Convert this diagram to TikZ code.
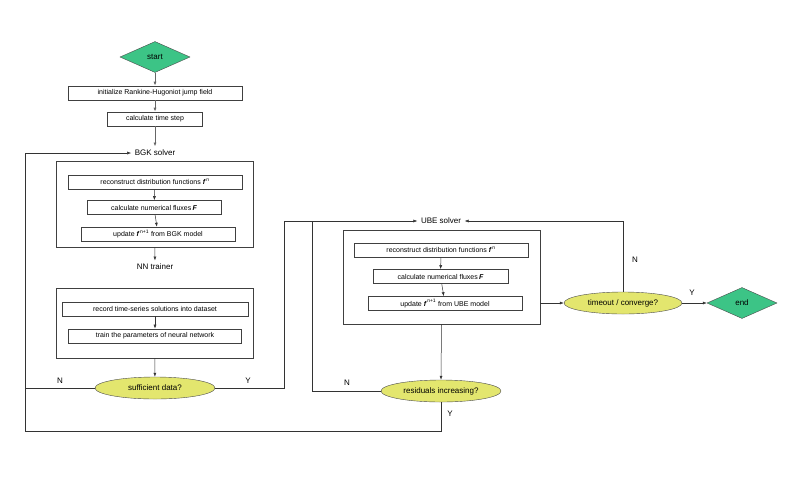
\documentclass[tikz,border=0pt]{standalone}
\usepackage{fontspec}
\setmainfont{Liberation Sans}
\usetikzlibrary{shapes.geometric,arrows.meta}
\definecolor{dgreen}{HTML}{3CC486}
\definecolor{ylw}{HTML}{E3E66E}
\newcommand{\fv}{{\bfseries\itshape f}}
\newcommand{\FF}{{\bfseries\itshape F}}
\begin{document}
\begin{tikzpicture}[x=1pt,y=-1pt,
  every node/.style={font=\fontsize{7}{8}\selectfont},
  pbox/.style={draw=black!75,line width=0.6pt,inner sep=0pt,minimum height=14pt},
  gbox/.style={draw=black!75,line width=0.6pt,inner sep=0pt},
  term/.style={diamond,aspect=2.2,draw=black!70,fill=dgreen,inner sep=0pt,minimum width=70pt,minimum height=31pt,font=\fontsize{8}{9}\selectfont},
  dec/.style={ellipse,draw=black!70,fill=ylw,inner sep=0pt,minimum height=22pt,font=\fontsize{8}{9}\selectfont},
  lbl/.style={font=\fontsize{8}{9}\selectfont},
  arr/.style={-{Latex[length=4pt,width=3pt]},line width=0.5pt,black!80},
  ln/.style={line width=0.5pt,black!80}]
\useasboundingbox (0,0) rectangle (789,493);
\node[term] (start) at (155,57) {start};
\node[pbox,minimum width=174pt] (init) at (155,93) {initialize Rankine-Hugoniot jump field};
\node[pbox,minimum width=95pt] (dt) at (155,119) {calculate time step};
\node[lbl] (bgk) at (155,153) {BGK solver};
\node[gbox,minimum width=197pt,minimum height=86pt] (bgkbox) at (154.5,204) {};
\node[pbox,minimum width=174pt] (r1) at (155,182) {reconstruct distribution functions \fv\,\textsuperscript{\tiny n}};
\node[pbox,minimum width=134pt] (c1) at (154,207.5) {calculate numerical fluxes\,\FF};
\node[pbox,minimum width=154pt] (u1) at (158,234) {update \fv\,\textsuperscript{\tiny n+1} from BGK model};
\node[lbl] (nn) at (155,267) {NN trainer};
\node[gbox,minimum width=197pt,minimum height=70pt] (nnbox) at (154.5,323) {};
\node[pbox,minimum width=186pt] (rec) at (155,309) {record time-series solutions into dataset};
\node[pbox,minimum width=173pt] (tr) at (155,336) {train the parameters of neural network};
\node[dec,minimum width=120pt] (suf) at (155,388) {sufficient data?};
\node[lbl] (ube) at (441,221) {UBE solver};
\node[gbox,minimum width=197pt,minimum height=94pt] (ubebox) at (441.5,277) {};
\node[pbox,minimum width=174pt] (r2) at (441,250) {reconstruct distribution functions \fv\,\textsuperscript{\tiny n}};
\node[pbox,minimum width=135pt] (c2) at (440.5,276.5) {calculate numerical fluxes\,\FF};
\node[pbox,minimum width=154pt] (u2) at (445,303.5) {update \fv\,\textsuperscript{\tiny n+1} from UBE model};
\node[dec,minimum width=118pt] (to) at (623,303) {timeout / converge?};
\node[term] (end) at (742,303) {end};
\node[dec,minimum width=120pt] (res) at (441,391) {residuals increasing?};
\coordinate (L) at (25,431);
\draw[arr,line width=0.8pt,black!60] (start) -- (init);
\draw[arr,line width=0.8pt,black!60] (init) -- (dt);
\draw[arr,line width=0.8pt,black!60] (dt) -- (bgk);
\draw[arr] (r1) -- (c1);
\draw[arr] (c1) -- (u1);
\draw[arr] (bgkbox) -- (nn);
\draw[arr] (rec) -- (tr);
\draw[arr] (nnbox) -- (suf);
\draw[arr] (suf.west) -- (25,388) -- (25,153) -- (bgk.west);
\draw[arr] (suf.east) -- (284,388) -- (284,221) -- (ube.west);
\draw[ln] (res.west) -- (312,391) -- (312,221);
\draw[arr] (r2) -- (c2);
\draw[arr] (c2) -- (u2);
\draw[arr] (ubebox.south) -- (res.north);
\draw[arr] (540,303) -- (to.west);
\draw[arr] (to.east) -- (end.west);
\draw[arr] (to.north) -- (623,221) -- (ube.east);
\draw[ln] (res.south) -- (441,431) -- (L) -- (25,388);
\node[lbl] at (60,381) {N};
\node[lbl] at (248,381) {Y};
\node[lbl] at (347,383) {N};
\node[lbl] at (450,414) {Y};
\node[lbl] at (635,260) {N};
\node[lbl] at (692,293) {Y};
\end{tikzpicture}
\end{document}
